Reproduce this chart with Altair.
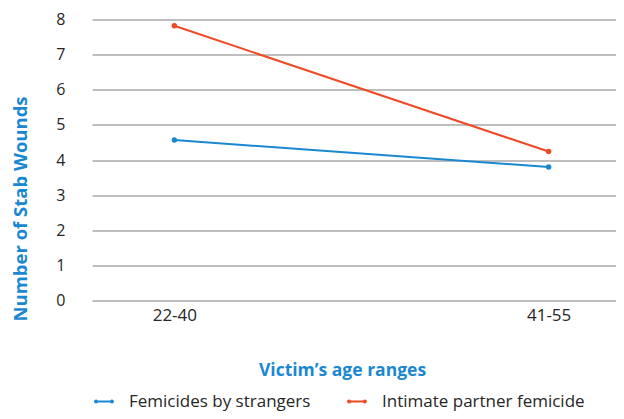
import altair as alt
import pandas as pd

ages = ["22-40", "41-55"]
strangers = [4.57, 3.80]
partner = [7.82, 4.24]
series_names = ["Femicides by strangers", "Intimate partner femicide"]
colors = ["#1a88d0", "#ef4a24"]

rows = []
for a, v in zip(ages, strangers):
    rows.append({"age": a, "value": v, "series": series_names[0]})
for a, v in zip(ages, partner):
    rows.append({"age": a, "value": v, "series": series_names[1]})
df = pd.DataFrame(rows)

FONT = "Open Sans"
TXT = "#262626"
BLUE_T = "#1a88d0"

sym = ("M-0.7,-0.1 L0.7,-0.1 L0.7,0.1 L-0.7,0.1 Z "
       "M-1.1,0 A0.22,0.22 0 1,1 -0.66,0 A0.22,0.22 0 1,1 -1.1,0 Z "
       "M0.66,0 A0.22,0.22 0 1,1 1.1,0 A0.22,0.22 0 1,1 0.66,0 Z")

base = alt.Chart(df).encode(
    x=alt.X("age:N", title="Victim’s age ranges",
            scale=alt.Scale(type="point", padding=0.2, align=0.55),
            axis=alt.Axis(labelAngle=0, domain=False, ticks=False, grid=False,
                          labelFontSize=17, labelColor=TXT, labelFont=FONT,
                          labelFontWeight=500,
                          labelPadding=7, titleFont=FONT, titleFontSize=17.5,
                          titleColor=BLUE_T, titleFontWeight="bold", titlePadding=38,
                          titleX=250)),
    y=alt.Y("value:Q", title="Number of Stab Wounds",
            scale=alt.Scale(domain=[0, 8], nice=False),
            axis=alt.Axis(values=[0, 1, 2, 3, 4, 5, 6, 7, 8], domain=False, ticks=False,
                          gridColor="#a8a8a8", gridWidth=1.5,
                          labelFontSize=16, labelColor=TXT, labelFont=FONT,
                          labelFontWeight=500,
                          labelPadding=27, titleFont=FONT, titleFontSize=18.5,
                          titleColor=BLUE_T, titleFontWeight="bold", titlePadding=25,
                          titleY=189)),
    color=alt.Color("series:N", scale=alt.Scale(domain=series_names, range=colors),
                    legend=alt.Legend(title=None, orient="none", direction="horizontal",
                                      legendX=3, legendY=373, symbolType=sym,
                                      symbolStrokeWidth=0, symbolSize=324,
                                      symbolOpacity=1,
                                      labelFontSize=17, labelFont=FONT, labelColor=TXT,
                                      labelFontWeight=500, labelLimit=400,
                                      columnPadding=36, labelOffset=16)),
)

lines = base.mark_line(strokeWidth=2)
points = base.mark_point(filled=True, size=30, opacity=1)

chart = (lines + points).properties(
    width=524, height=281,
    autosize=alt.AutoSizeParams(type="none"),
    padding={"top": 11.5, "left": 84, "right": 0, "bottom": 110},
).configure_view(stroke=None)

chart.save("out.html", embed_options={"renderer": "svg", "actions": False})
